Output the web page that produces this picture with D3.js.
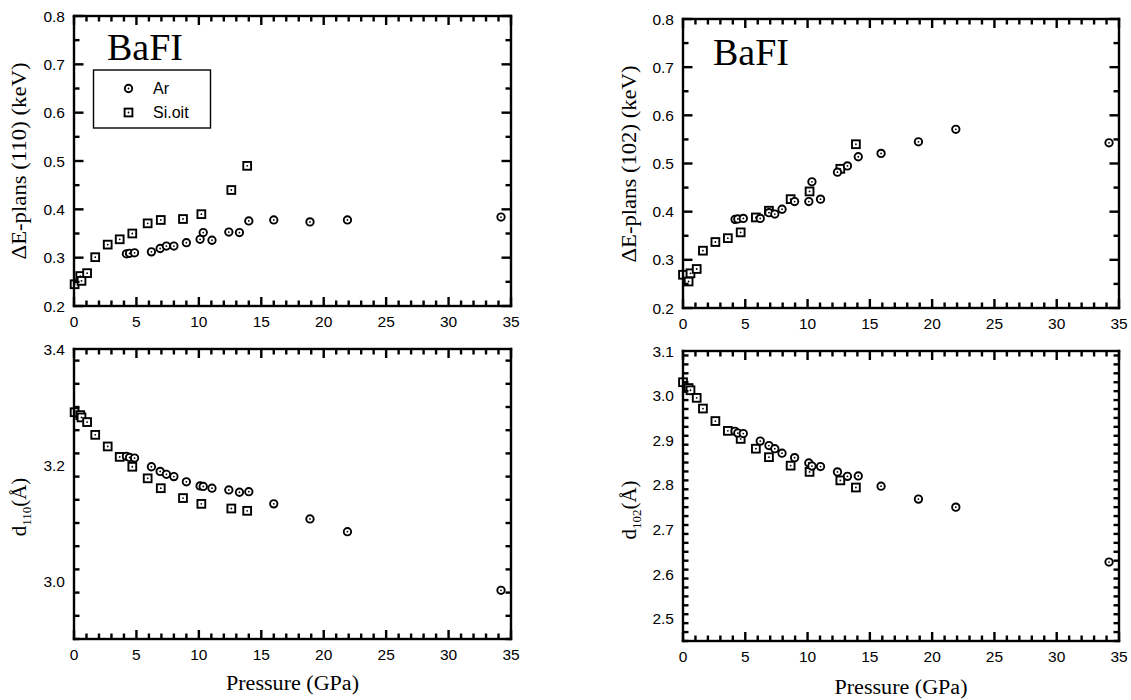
<!DOCTYPE html>
<html><head><meta charset="utf-8">
<script src="https://cdn.jsdelivr.net/npm/d3@7"></script>
<style>body{margin:0;background:#fff}</style>
</head><body><svg id="c" width="1131" height="700"></svg>
<script>
// ---- data ----
const arP110  = [4.2,4.45,4.85,6.2,6.9,7.4,8.0,9.0,10.1,10.35,11.05,12.4,13.25,14.0,16.0,18.9,21.9,34.2];
const arE110  = [0.308,0.309,0.310,0.312,0.319,0.324,0.324,0.331,0.338,0.352,0.336,0.353,0.352,0.376,0.378,0.374,0.378,0.384];
const arD110  = [3.215,3.213,3.212,3.197,3.189,3.184,3.180,3.171,3.164,3.163,3.160,3.157,3.153,3.154,3.133,3.107,3.085,2.984];
const siP110  = [0.05,0.5,0.6,1.05,1.7,2.7,3.66,4.67,5.9,6.95,8.73,10.2,12.6,13.87];
const siE110  = [0.245,0.262,0.252,0.268,0.301,0.327,0.338,0.350,0.371,0.378,0.380,0.390,0.440,0.490];
const siD110  = [3.291,3.286,3.282,3.274,3.252,3.232,3.214,3.197,3.177,3.160,3.143,3.133,3.125,3.121];
const arP102  = [4.18,4.4,4.84,6.2,6.9,7.37,7.95,8.96,10.1,10.35,11.04,12.4,13.2,14.07,15.9,18.9,21.9,34.2];
const arE102  = [0.384,0.385,0.386,0.386,0.398,0.395,0.405,0.421,0.421,0.462,0.426,0.482,0.495,0.514,0.521,0.545,0.571,0.543];
const arD102  = [2.920,2.916,2.915,2.898,2.888,2.881,2.871,2.861,2.849,2.842,2.841,2.829,2.819,2.820,2.797,2.768,2.750,2.627];
const siP102  = [0,0.45,0.6,1.1,1.6,2.6,3.6,4.63,5.85,6.9,8.64,10.16,12.63,13.88];
const siE102  = [0.269,0.255,0.272,0.281,0.319,0.337,0.345,0.357,0.388,0.402,0.426,0.442,0.489,0.540];
const siD102  = [3.030,3.017,3.012,2.995,2.971,2.943,2.921,2.903,2.881,2.862,2.843,2.829,2.810,2.794];
const xTicks  = [0,5,10,15,20,25,30,35];
const eTicks  = [0.2,0.3,0.4,0.5,0.6,0.7,0.8];
const d110Ticks = [3.0,3.2,3.4];
const d102Ticks = [2.5,2.6,2.7,2.8,2.9,3.0,3.1];
const legendNames = ["Ar","Si.oit"];
const xTitle = "Pressure (GPa)";

const svg = d3.select("#c");
const SANS = "'Liberation Sans', Arial, Helvetica, sans-serif";
const SERIF = "'Liberation Serif', 'Times New Roman', serif";

function stepRange(a,b,s){const r=[];const n=Math.floor((b-a)/s+1e-6);for(let i=0;i<=n;i++)r.push(+(a+i*s).toFixed(4));return r;}

const tickJobs = [];
function panel(o){
  const g = svg.append("g");
  const x = d3.scaleLinear().domain([0,35]).range([o.x0,o.x1]);
  const y = d3.scaleLinear().domain(o.yd).range([o.y1,o.y0]);
  g.append("g").selectAll("text").data(xTicks).join("text")
    .attr("x",v=>x(v)).attr("y",o.y1+21).attr("text-anchor","middle")
    .attr("font-family",SANS).attr("font-size",15.5).attr("fill","#000").text(d3.format("d"));
  g.append("g").selectAll("text").data(o.yt).join("text")
    .attr("x",o.x0-9).attr("y",v=>y(v)).attr("dy","0.36em").attr("text-anchor","end")
    .attr("font-family",SANS).attr("font-size",15.5).attr("fill","#000").text(d3.format(".1f"));
  o.title(g, o.tx, o.ty);
  if(o.xt) g.append("text").attr("x",(o.x0+o.x1)/2).attr("y",o.xty).attr("text-anchor","middle")
    .attr("font-family",SERIF).attr("font-size",20).attr("textLength",133).attr("lengthAdjust","spacingAndGlyphs")
    .attr("fill","#000").text(xTitle);
  if(o.bafi) g.append("text").attr("x",o.bafi[0]).attr("y",o.bafi[1]).attr("font-family",SERIF).attr("font-size",38).attr("fill","#000").text("BaFI");
  drawSquares(g, o.sp.map((p,i)=>[x(p),y(o.sv[i])]));
  drawCircles(g, o.ap.map((p,i)=>[x(p),y(o.av[i])]));
  tickJobs.push({o,x,y});
}
function drawTicks({o,x,y}){
  const minorX = stepRange(0,35,1), minorY = stepRange(o.yd[0],o.yd[1],o.ymin);
  const isMajor = (v,arr)=>arr.some(t=>Math.abs(t-v)<1e-6);
  const W = 2.4, F = 2.4;
  const tk = svg.append("g").attr("fill","#000");
  tk.append("rect").attr("x",o.x0-F/2).attr("y",o.y0-F/2).attr("width",o.x1-o.x0+F).attr("height",F);
  tk.append("rect").attr("x",o.x0-F/2).attr("y",o.y1-F/2).attr("width",o.x1-o.x0+F).attr("height",F);
  tk.append("rect").attr("x",o.x0-F/2).attr("y",o.y0-F/2).attr("width",F).attr("height",o.y1-o.y0+F);
  tk.append("rect").attr("x",o.x1-F/2).attr("y",o.y0-F/2).attr("width",F).attr("height",o.y1-o.y0+F);
  minorX.forEach(v=>{
    const L = isMajor(v,xTicks)?9:5.5, px = x(v);
    tk.append("rect").attr("x",px-W/2).attr("y",o.y1-L).attr("width",W).attr("height",L);
    tk.append("rect").attr("x",px-W/2).attr("y",o.y0).attr("width",W).attr("height",L);
  });
  minorY.forEach(v=>{
    const L = isMajor(v,o.yt)?9.5:5.5, py = y(v);
    tk.append("rect").attr("x",o.x0).attr("y",py-W/2).attr("width",L).attr("height",W);
    tk.append("rect").attr("x",o.x1-L).attr("y",py-W/2).attr("width",L).attr("height",W);
  });
}
function drawCircles(g,pts){
  const s=g.append("g");
  pts.forEach(([px,py])=>{
    s.append("circle").attr("cx",px).attr("cy",py).attr("r",3.7).attr("fill","#fff").attr("stroke","#000").attr("stroke-width",1.9);
    s.append("circle").attr("cx",px).attr("cy",py).attr("r",0.9).attr("fill","#000");
  });
}
function drawSquares(g,pts){
  const s=g.append("g");
  pts.forEach(([px,py])=>{
    s.append("rect").attr("x",px-3.9).attr("y",py-3.9).attr("width",7.8).attr("height",7.8).attr("fill","#fff").attr("stroke","#000").attr("stroke-width",1.9);
    s.append("circle").attr("cx",px).attr("cy",py).attr("r",0.9).attr("fill","#000");
  });
}
function eTitle(label){ return (g,tx,ty)=>g.append("text").attr("transform",`translate(${tx},${ty}) rotate(-90)`)
  .attr("text-anchor","middle").attr("font-family",SERIF).attr("font-size",21).attr("textLength",197).attr("lengthAdjust","spacingAndGlyphs")
  .attr("fill","#000").text(label); }
function dTitle(sub){ return (g,tx,ty)=>{ const t=g.append("text").attr("transform",`translate(${tx},${ty}) rotate(-90)`)
  .attr("text-anchor","middle").attr("font-family",SERIF).attr("font-size",21).attr("fill","#000");
  t.append("tspan").text("d"); t.append("tspan").attr("font-size",13).attr("dy",5).text(sub); t.append("tspan").attr("dy",-5).text("(Å)"); }; }

panel({x0:74,x1:511,y0:16,y1:306,yd:[0.2,0.8],yt:eTicks,ymin:0.05,tx:26,ty:161,
  title:eTitle("ΔE-plans (110) (keV)"),bafi:[107,60],ap:arP110,av:arE110,sp:siP110,sv:siE110});
panel({x0:74,x1:511,y0:349,y1:639,yd:[2.9,3.4],yt:d110Ticks,ymin:0.04,tx:26,ty:507,xt:true,xty:690,
  title:dTitle("110"),ap:arP110,av:arD110,sp:siP110,sv:siD110});
panel({x0:683,x1:1119,y0:19,y1:308,yd:[0.2,0.8],yt:eTicks,ymin:0.05,tx:636,ty:164,
  title:eTitle("ΔE-plans (102) (keV)"),bafi:[713,65],ap:arP102,av:arE102,sp:siP102,sv:siE102});
panel({x0:683,x1:1119,y0:351,y1:641,yd:[2.45,3.1],yt:d102Ticks,ymin:0.02,tx:636,ty:510,xt:true,xty:694,
  title:dTitle("102"),ap:arP102,av:arD102,sp:siP102,sv:siD102});

// legend (top-left)
const lg = svg.append("g");
lg.append("rect").attr("x",93.5).attr("y",70).attr("width",117).attr("height",58).attr("fill","#fff").attr("stroke","#000").attr("stroke-width",1.4);
drawCircles(lg,[[128.5,88.5]]);
drawSquares(lg,[[128.5,112.5]]);
legendNames.forEach((n,i)=>lg.append("text").attr("x",153).attr("y",94+i*24).attr("font-family",SANS).attr("font-size",16).attr("fill","#000").text(n));

tickJobs.forEach(drawTicks);
</script></body></html>
